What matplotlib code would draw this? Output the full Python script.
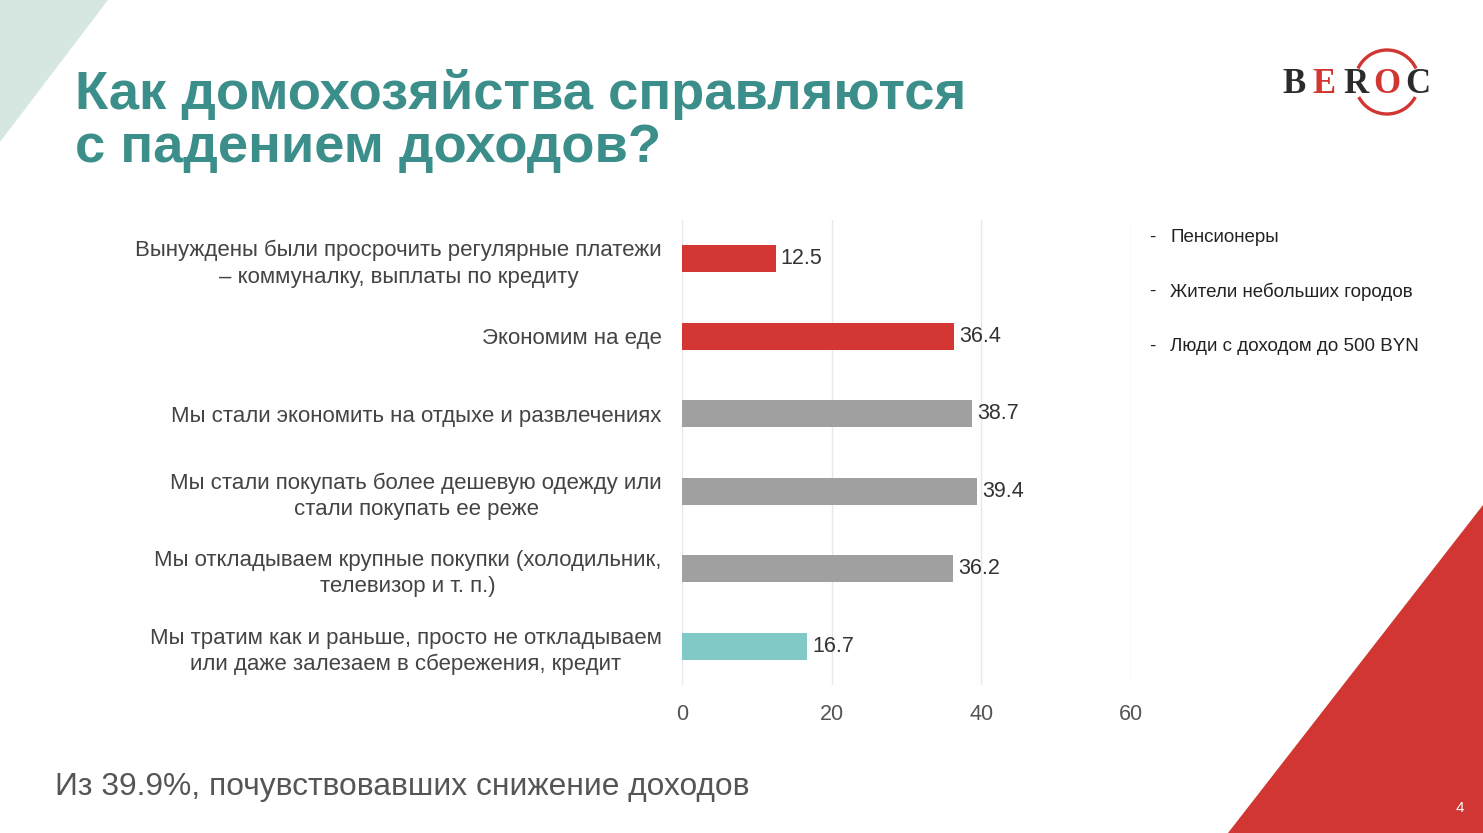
import matplotlib
matplotlib.use("Agg")
import matplotlib.pyplot as plt
from matplotlib.patches import Polygon, Arc

plt.rcParams['font.family'] = ['Liberation Sans', 'DejaVu Sans']

categories = [
    "Вынуждены были просрочить регулярные платежи\n– коммуналку, выплаты по кредиту",
    "Экономим на еде",
    "Мы стали экономить на отдыхе и развлечениях",
    "Мы стали покупать более дешевую одежду или\nстали покупать ее реже",
    "Мы откладываем крупные покупки (холодильник,\nтелевизор и т. п.)",
    "Мы тратим как и раньше, просто не откладываем\nили даже залезаем в сбережения, кредит",
]
values = [12.5, 36.4, 38.7, 39.4, 36.2, 16.7]
bar_colors = ["#d33633", "#d33633", "#a0a0a0", "#a0a0a0", "#a0a0a0", "#80c9c6"]
xticks = [0, 20, 40, 60]
legend_items = ["Пенсионеры", "Жители небольших городов", "Люди с доходом до 500 BYN"]
title = "Как домохозяйства справляются\nс падением доходов?"
footnote = "Из 39.9%, почувствовавших снижение доходов"

W, H = 1483, 833
fig = plt.figure(figsize=(W / 100, H / 100), dpi=100)
fig.patch.set_facecolor("white")

# background decoration (figure pixel coords)
bg = fig.add_axes([0, 0, 1, 1])
bg.set_xlim(0, W)
bg.set_ylim(H, 0)
bg.axis("off")
bg.add_patch(Polygon([(0, 0), (108, 0), (0, 142)], closed=True, color="#d6e7e2", lw=0))
bg.add_patch(Polygon([(W, 505), (W, H), (1228, H)], closed=True, color="#d13632", lw=0))
bg.text(1460, 808, "4", color="white", fontsize=11, ha="center", va="center")

# title
bg.text(75, 121, title, color="#3b8e8a", fontsize=39.2, fontweight="bold",
        ha="left", va="center", linespacing=1.08)

# logo
logo_letters = ["B", "E", "R", "O", "C"]
logo_x = [1294, 1324, 1356, 1387, 1418]
logo_c = ["#2b2b2b", "#d13632", "#2b2b2b", "#d13632", "#2b2b2b"]
for ch, x, c in zip(logo_letters, logo_x, logo_c):
    bg.text(x, 84, ch, color=c, fontsize=25, family="Liberation Serif",
            fontweight="bold", ha="center", va="center")
bg.add_patch(Arc((1387, 82), 64, 64, theta1=205, theta2=335, color="#d13632", lw=2.4))
bg.add_patch(Arc((1387, 82), 64, 64, theta1=28, theta2=152, color="#d13632", lw=2.4))

# list on the right
for i, txt in enumerate(legend_items):
    y = 237 + i * 54.5
    bg.text(1152, y, "-", color="#222222", fontsize=13.5, ha="center", va="center")
    bg.text(1170, y, txt, color="#222222", fontsize=13.5, ha="left", va="center")

# footnote
bg.text(55, 787, footnote, color="#555555", fontsize=22.9, ha="left", va="center")

# chart
ax = fig.add_axes([682 / W, 1 - 685 / H, (1131 - 682) / W, (685 - 220) / H])
ax.set_facecolor("none")
ypos = list(range(len(values)))
ax.barh(ypos, values, height=0.35, color=bar_colors, zorder=3)
for y, v in zip(ypos, values):
    ax.text(v + 0.7, y, f"{v}", va="center", ha="left", fontsize=15.5, color="#333333")
ax.set_xlim(0, 60)
ax.set_ylim(len(values) - 0.5, -0.5)
ax.set_xticks(xticks)
ax.set_xticklabels([str(t) for t in xticks], fontsize=15.5, color="#555555")
ax.set_yticks(ypos)
ax.set_yticklabels(categories, fontsize=16, color="#444444", linespacing=1.32)
for lab in ax.get_yticklabels():
    lab.set_multialignment("center")
ax.tick_params(axis="y", length=0, pad=14.5)
ax.tick_params(axis="x", length=0, pad=14)
ax.grid(axis="x", color="#e8e8e8", lw=1, zorder=0)
for s in ax.spines.values():
    s.set_visible(False)

fig.savefig("out.png", dpi=100, facecolor="white")
